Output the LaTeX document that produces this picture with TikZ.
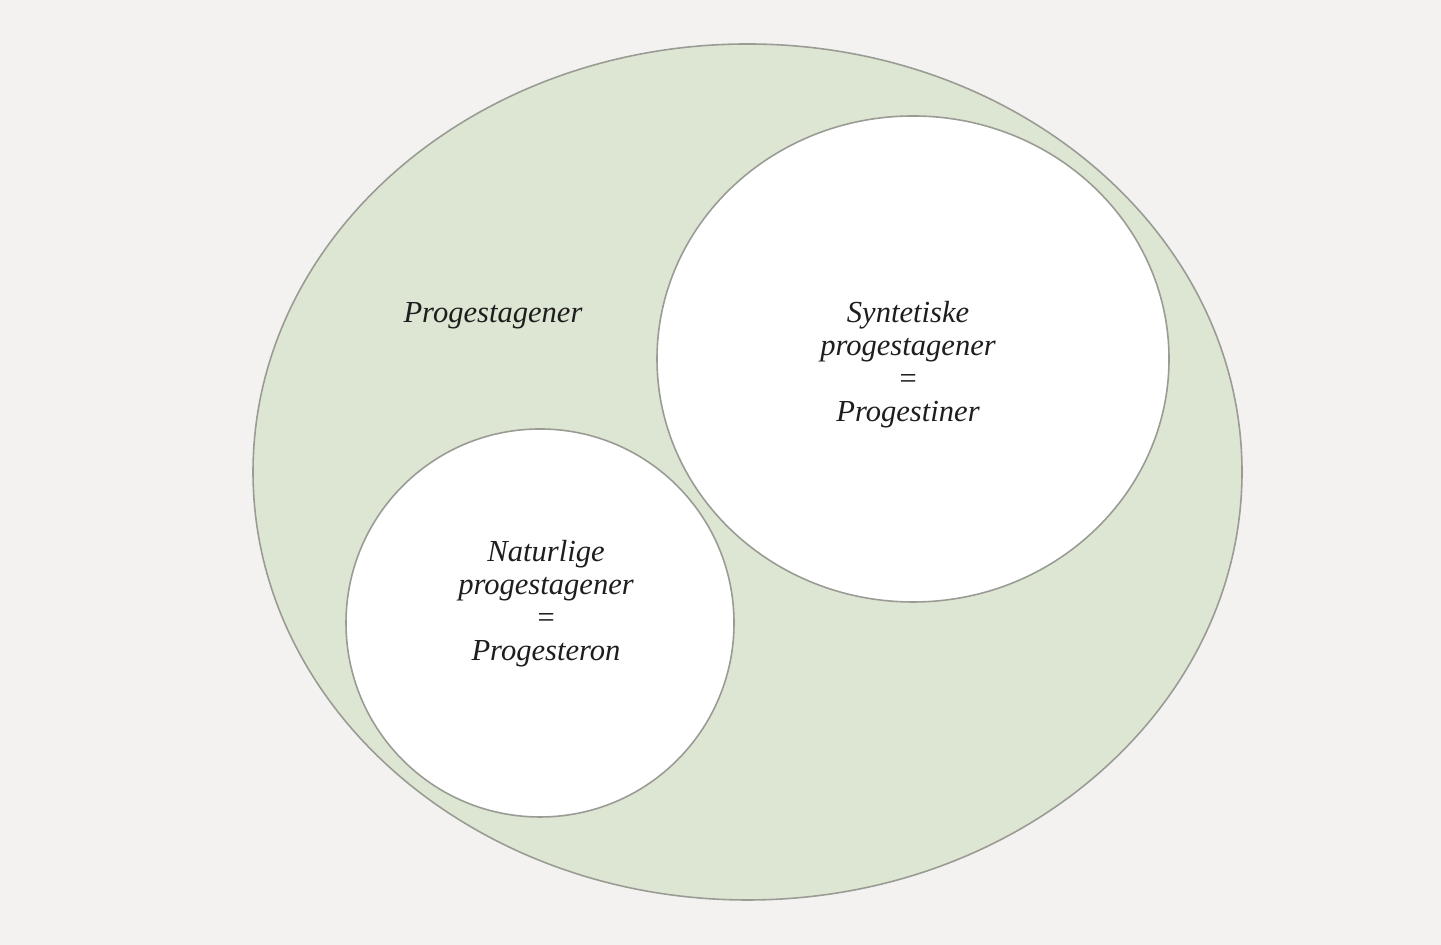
\documentclass[tikz,border=0pt]{standalone}
\usepackage{fontspec}
\setmainfont{Liberation Serif}
\usepackage{tikz}
\definecolor{bgray}{HTML}{F3F2F0}
\definecolor{pgreen}{HTML}{DCE6D3}
\definecolor{edgegray}{HTML}{9A9B94}
\definecolor{txt}{HTML}{1E1E1E}
\tikzset{lbl/.style={align=center,text=txt,font=\fontsize{8.7}{9.4}\selectfont\itshape}}
\begin{document}
\begin{tikzpicture}
  \fill[bgray] (0,0) rectangle (14.41,9.45);
  \useasboundingbox (0,0) rectangle (14.41,9.45);
  \draw[edgegray,fill=pgreen,line width=.45pt] (7.475,4.73) ellipse (4.945 and 4.28);
  \draw[edgegray,fill=white,line width=.45pt] (9.13,5.86) ellipse (2.56 and 2.43);
  \draw[edgegray,fill=white,line width=.45pt] (5.40,3.22) circle (1.94);
  \node[lbl] (prog) at (4.93,6.29) {Progestagener};
  \node[lbl] (synt) at (9.08,5.80) {Syntetiske\\progestagener\\=\\Progestiner};
  \node[lbl] (natur) at (5.46,3.41) {Naturlige\\progestagener\\=\\Progesteron};
\end{tikzpicture}
\end{document}
